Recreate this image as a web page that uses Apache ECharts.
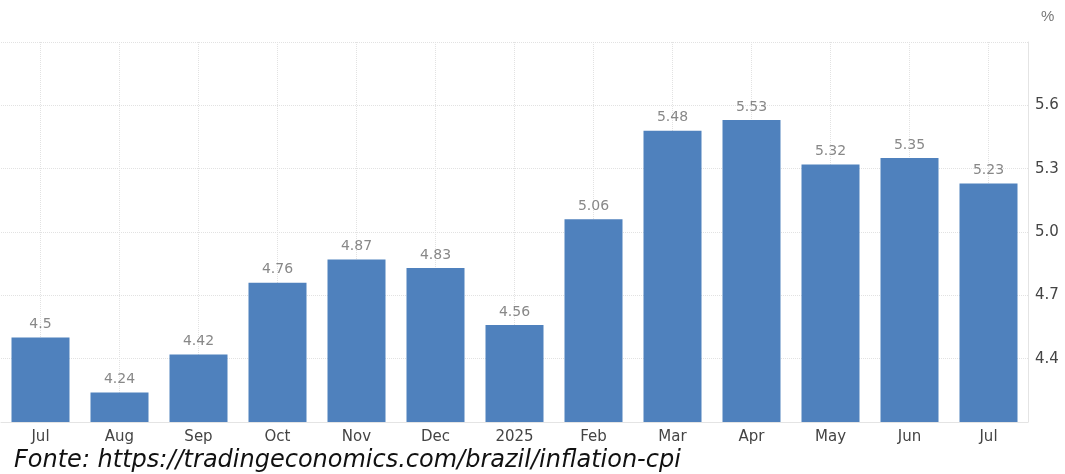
<!DOCTYPE html>
<html>
<head>
<meta charset="utf-8">
<script src="https://cdn.jsdelivr.net/npm/echarts@6/dist/echarts.min.js"></script>
<style>
  html, body { margin: 0; padding: 0; background: #fff; }
  #chart { width: 1065px; height: 474px; }
</style>
</head>
<body>
<div id="chart"></div>
<script>
// Brazil inflation rate, Jul 2024 - Jul 2025 (%)
var months = ['Jul', 'Aug', 'Sep', 'Oct', 'Nov', 'Dec', '2025', 'Feb', 'Mar', 'Apr', 'May', 'Jun', 'Jul'];
var inflation = [4.5, 4.24, 4.42, 4.76, 4.87, 4.83, 4.56, 5.06, 5.48, 5.53, 5.32, 5.35, 5.23];
var yMin = 4.1, yMax = 5.9, yStep = 0.3;
var source = 'Fonte: https://tradingeconomics.com/brazil/inflation-cpi';

var myChart = echarts.init(document.getElementById('chart'));
myChart.setOption({
    animation: false,
    title: {
        text: source,
        left: 9,
        top: 444,
        textStyle: {
            fontFamily: 'DejaVu Sans',
            fontStyle: 'italic',
            fontWeight: 'normal',
            fontSize: 24,
            color: '#111'
        }
    },
    grid: { left: 1, right: 37, top: 42, bottom: 52 },
    xAxis: {
        type: 'category',
        data: months,
        axisLine: { lineStyle: { color: '#e4e4e4', width: 1 } },
        axisTick: { show: false },
        axisLabel: { color: '#444', fontSize: 15, fontFamily: 'DejaVu Sans', margin: 8 },
        splitLine: {
            show: true,
            alignWithLabel: true,
            lineStyle: { color: '#e2e2e2', type: 'dotted' }
        }
    },
    yAxis: {
        type: 'value',
        position: 'right',
        min: yMin,
        max: yMax,
        interval: yStep,
        name: '%',
        nameGap: 18,
        nameTextStyle: { color: '#777', fontSize: 15, align: 'left', padding: [0, 0, 0, 13] },
        axisLine: { show: true, lineStyle: { color: '#e4e4e4' } },
        axisTick: { show: false },
        axisLabel: {
            color: '#444',
            fontSize: 15,
            fontFamily: 'DejaVu Sans',
            margin: 7,
            showMinLabel: false,
            showMaxLabel: false,
            formatter: function (v) { return v.toFixed(1); }
        },
        splitLine: { lineStyle: { color: '#e2e2e2', type: 'dotted' } }
    },
    series: [{
        type: 'bar',
        data: inflation,
        barWidth: 58,
        itemStyle: { color: '#4f81bd' },
        label: {
            show: true,
            position: 'top',
            distance: 6,
            color: '#888',
            fontSize: 14,
            fontFamily: 'DejaVu Sans'
        }
    }]
});
</script>
</body>
</html>
